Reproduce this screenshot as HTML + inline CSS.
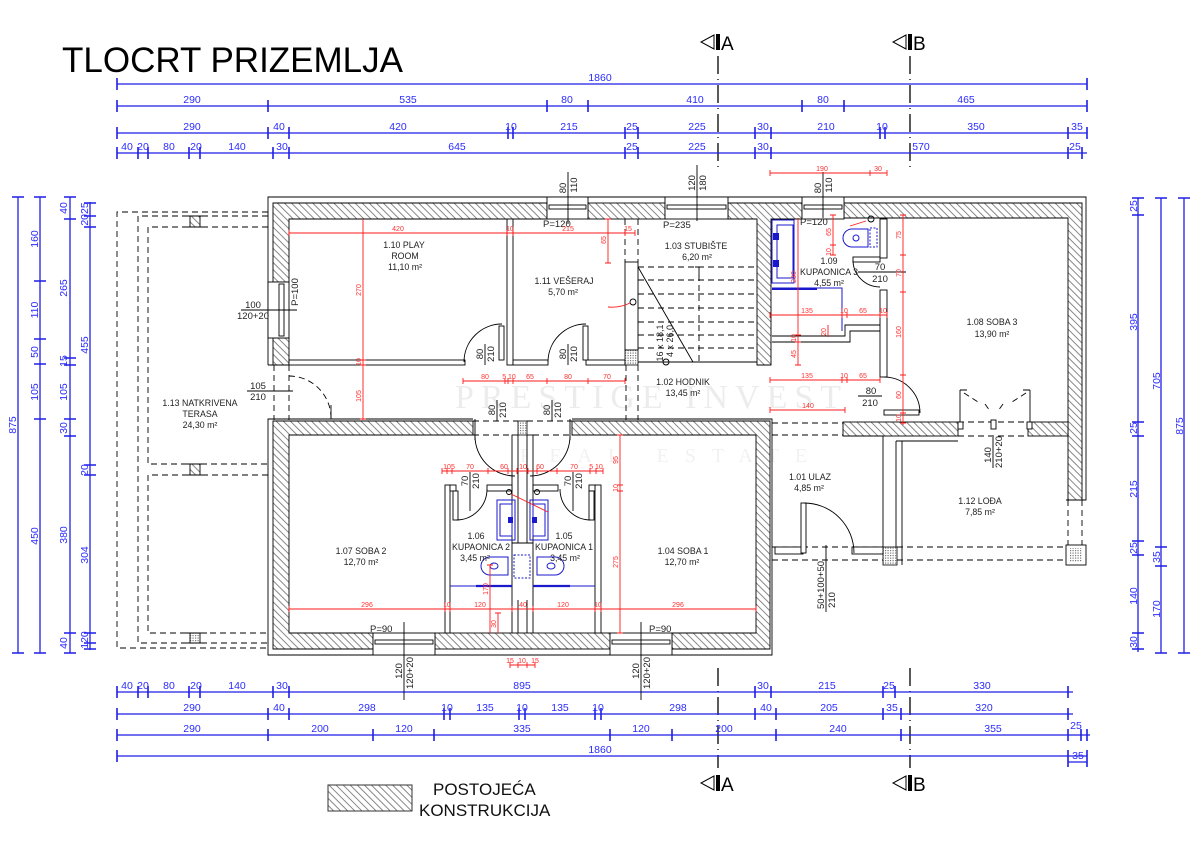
<!DOCTYPE html>
<html><head><meta charset="utf-8"><style>
html,body{margin:0;padding:0;background:#fff;}
svg{display:block;}
text{font-family:"Liberation Sans",sans-serif;}
.d{stroke:#1f1fe6;stroke-width:1.3;fill:none}
.tk{stroke:#1f1fe6;stroke-width:1.6;fill:none}
.dt{fill:#2b2bff;font-size:10.5px;text-anchor:middle}
.r{stroke:#ff1a1a;stroke-width:0.9;fill:none}
.rt{fill:#ff3030;font-size:7px;text-anchor:middle}
.k{stroke:#000;stroke-width:0.9;fill:none}
.kw{stroke:#000;stroke-width:0.9;fill:#fff}
.hw{stroke:#000;stroke-width:0.9;fill:url(#h)}
.ds{stroke:#000;stroke-width:0.9;fill:none;stroke-dasharray:6 4}
.lb{fill:#222;font-size:8.8px;text-anchor:middle}
.ft{fill:#222;font-size:9.5px;text-anchor:middle}
.bl{stroke:#1a1acc;stroke-width:1;fill:none}
.sec{stroke:#000;stroke-width:1.3;fill:none;stroke-dasharray:18 5 1 5}
</style></head><body>
<svg width="1200" height="843" viewBox="0 0 1200 843" xmlns="http://www.w3.org/2000/svg">
<defs>
<pattern id="h" width="5" height="5" patternUnits="userSpaceOnUse" patternTransform="rotate(-45)"><rect width="5" height="5" fill="#fff"/><line x1="2.5" y1="0" x2="2.5" y2="5" stroke="#555" stroke-width="0.7"/></pattern>
<pattern id="p" width="2.5" height="2.5" patternUnits="userSpaceOnUse"><rect width="2.5" height="2.5" fill="#fff"/><rect width="1.2" height="1.2" fill="#777"/></pattern>
</defs>

<!-- watermark -->
<text x="455" y="408" font-family="Liberation Serif,serif" font-size="34" letter-spacing="7" fill="#000" opacity="0.07" style="font-family:'Liberation Serif',serif">PRESTIGE INVEST</text>
<text x="520" y="462" font-size="20" letter-spacing="16" fill="#000" opacity="0.05" style="font-family:'Liberation Serif',serif">REAL ESTATE</text>

<!-- Title -->
<text x="62" y="72" font-size="35" fill="#000">TLOCRT PRIZEMLJA</text>

<!-- Section markers top -->
<polygon points="714,35 714,49 701,42" fill="none" stroke="#000" stroke-width="1"/>
<rect x="716" y="34" width="4" height="16" fill="#000"/>
<text x="721" y="50" font-size="19" fill="#000">A</text>
<polygon points="906,35 906,49 893,42" fill="none" stroke="#000" stroke-width="1"/>
<rect x="908" y="34" width="4" height="16" fill="#000"/>
<text x="913" y="50" font-size="19" fill="#000">B</text>
<path class="sec" d="M718 56 V168 M718 668 V768"/>
<path class="sec" d="M910 56 V168 M910 668 V768" stroke="#444" stroke-width="1.6"/>
<!-- Section markers bottom -->
<polygon points="714,776 714,790 701,783" fill="none" stroke="#000" stroke-width="1"/>
<rect x="716" y="775" width="4" height="16" fill="#000"/>
<text x="721" y="791" font-size="19" fill="#000">A</text>
<polygon points="906,776 906,790 893,783" fill="none" stroke="#000" stroke-width="1"/>
<rect x="908" y="775" width="4" height="16" fill="#000"/>
<text x="913" y="791" font-size="19" fill="#000">B</text>

<!-- TOP DIMENSIONS -->
<path class="d" d="M117 84 H1087 M117 106 H1087 M117 133 H1087 M117 153 H1087"/>
<path class="tk" d="M117 78V90 M1087 78V90
M117 100V112 M268 100V112 M547 100V112 M588 100V112 M802 100V112 M844 100V112 M1087 100V112
M117 127V139 M268 127V139 M289 127V139 M508 127V139 M513 127V139 M625 127V139 M638 127V139 M755 127V139 M771 127V139 M880 127V139 M885 127V139 M1068 127V139 M1087 127V139
M117 147V159 M138 147V159 M148 147V159 M189 147V159 M200 147V159 M273 147V159 M289 147V159 M625 147V159 M638 147V159 M755 147V159 M771 147V159 M1068 147V159 M1082 147V159"/>
<g class="dt">
<text x="600" y="81">1860</text>
<text x="192" y="103">290</text><text x="408" y="103">535</text><text x="567" y="103">80</text><text x="695" y="103">410</text><text x="823" y="103">80</text><text x="966" y="103">465</text>
<text x="192" y="130">290</text><text x="279" y="130">40</text><text x="398" y="130">420</text><text x="511" y="130">10</text><text x="569" y="130">215</text><text x="632" y="130">25</text><text x="697" y="130">225</text><text x="763" y="130">30</text><text x="826" y="130">210</text><text x="882" y="130">10</text><text x="976" y="130">350</text><text x="1077" y="130">35</text>
<text x="127" y="150">40</text><text x="143" y="150">20</text><text x="169" y="150">80</text><text x="196" y="150">20</text><text x="237" y="150">140</text><text x="282" y="150">30</text><text x="457" y="150">645</text><text x="632" y="150">25</text><text x="697" y="150">225</text><text x="763" y="150">30</text><text x="921" y="150">570</text><text x="1075" y="150">25</text>
</g>

<!-- BOTTOM DIMENSIONS -->
<path class="d" d="M117 692 H1073 M117 714 H1073 M117 735 H1090 M117 756 H1087 M1068 762 H1087"/>
<path class="tk" d="M117 686V698 M138 686V698 M148 686V698 M189 686V698 M200 686V698 M273 686V698 M289 686V698 M755 686V698 M771 686V698 M883 686V698 M895 686V698 M1068 686V698
M117 708V720 M268 708V720 M289 708V720 M444 708V720 M450 708V720 M519 708V720 M525 708V720 M595 708V720 M601 708V720 M755 708V720 M776 708V720 M883 708V720 M901 708V720 M1068 708V720
M117 729V741 M268 729V741 M373 729V741 M434 729V741 M610 729V741 M672 729V741 M776 729V741 M901 729V741 M1068 729V741 M1081 729V741 M1087 729V741
M117 750V762 M1068 750V767 M1087 750V767"/>
<g class="dt">
<text x="127" y="689">40</text><text x="143" y="689">20</text><text x="169" y="689">80</text><text x="196" y="689">20</text><text x="237" y="689">140</text><text x="282" y="689">30</text><text x="522" y="689">895</text><text x="763" y="689">30</text><text x="827" y="689">215</text><text x="889" y="689">25</text><text x="982" y="689">330</text>
<text x="192" y="711">290</text><text x="279" y="711">40</text><text x="367" y="711">298</text><text x="447" y="711">10</text><text x="485" y="711">135</text><text x="522" y="711">10</text><text x="560" y="711">135</text><text x="598" y="711">10</text><text x="678" y="711">298</text><text x="766" y="711">40</text><text x="829" y="711">205</text><text x="892" y="711">35</text><text x="984" y="711">320</text>
<text x="192" y="732">290</text><text x="320" y="732">200</text><text x="404" y="732">120</text><text x="522" y="732">335</text><text x="641" y="732">120</text><text x="724" y="732">200</text><text x="838" y="732">240</text><text x="993" y="732">355</text><text x="1076" y="729">25</text>
<text x="600" y="753">1860</text><text x="1078" y="759">35</text>
</g>

<!-- LEFT VERTICAL DIMENSIONS -->
<path class="d" d="M18 197 V653 M40 197 V653 M70 197 V653 M90 202 V650"/>
<path class="tk" d="M12 197H24 M12 653H24
M34 197H46 M34 281H46 M34 339H46 M34 364H46 M34 419H46 M34 653H46
M64 197H76 M64 219H76 M64 358H76 M64 365H76 M64 419H76 M64 436H76 M64 633H76 M64 653H76
M84 203H96 M84 216H96 M84 227H96 M84 465H96 M84 475H96 M84 633H96 M84 643H96 M84 649H96"/>
<g class="dt">
<text transform="translate(16,425) rotate(-90)">875</text>
<text transform="translate(38,239) rotate(-90)">160</text>
<text transform="translate(38,310) rotate(-90)">110</text>
<text transform="translate(38,352) rotate(-90)">50</text>
<text transform="translate(38,392) rotate(-90)">105</text>
<text transform="translate(38,536) rotate(-90)">450</text>
<text transform="translate(67,208) rotate(-90)">40</text>
<text transform="translate(67,288) rotate(-90)">265</text>
<text transform="translate(67,361) rotate(-90)">15</text>
<text transform="translate(67,392) rotate(-90)">105</text>
<text transform="translate(67,428) rotate(-90)">30</text>
<text transform="translate(67,535) rotate(-90)">380</text>
<text transform="translate(67,643) rotate(-90)">40</text>
<text transform="translate(88,214) rotate(-90)">2025</text>
<text transform="translate(88,345) rotate(-90)">455</text>
<text transform="translate(88,470) rotate(-90)">20</text>
<text transform="translate(88,555) rotate(-90)">304</text>
<text transform="translate(88,640) rotate(-90)">120</text>
</g>

<!-- RIGHT VERTICAL DIMENSIONS -->
<path class="d" d="M1138 198 V652 M1161 198 V653 M1184 198 V653"/>
<path class="tk" d="M1132 198H1144 M1132 215H1144 M1132 422H1144 M1132 436H1144 M1132 541H1144 M1132 555H1144 M1132 633H1144 M1132 649H1144
M1155 198H1167 M1155 547H1167 M1155 566H1167 M1155 653H1167
M1178 198H1190 M1178 653H1190"/>
<g class="dt">
<text transform="translate(1137,206) rotate(-90)">25</text>
<text transform="translate(1137,322) rotate(-90)">395</text>
<text transform="translate(1137,428) rotate(-90)">25</text>
<text transform="translate(1137,489) rotate(-90)">215</text>
<text transform="translate(1137,548) rotate(-90)">25</text>
<text transform="translate(1137,596) rotate(-90)">140</text>
<text transform="translate(1137,642) rotate(-90)">30</text>
<text transform="translate(1160,381) rotate(-90)">705</text>
<text transform="translate(1160,557) rotate(-90)">35</text>
<text transform="translate(1160,609) rotate(-90)">170</text>
<text transform="translate(1183,426) rotate(-90)">875</text>
</g>

<!-- TERRACE (dashed) -->
<path class="ds" d="M268 212 H117 V648 H268"/>
<path class="ds" d="M268 216 H138 V643 H268"/>
<path class="ds" d="M268 227 H148 V464 H268 M268 475 H148 V633 H268"/>
<g stroke="#000" stroke-width="0.9">
<rect x="190" y="216" width="10" height="11" fill="url(#h)"/>
<rect x="190" y="464" width="10" height="11" fill="url(#h)"/>
<rect x="190" y="633" width="10" height="10" fill="url(#p)"/>
<path d="M183 216H207 M183 227H207 M183 464H207 M183 475H207 M183 633H207 M183 643H207"/>
</g>
<path class="ds" d="M274 365 V420 M289 365 V420"/>
<path class="ds" d="M289 376 A42 42 0 0 1 331 418"/>
<path class="k" d="M331 405 V419"/>

<!-- EXISTING HATCHED WALLS -->
<path class="hw" d="M273 282 V203 H547 V219 H289 V282 Z"/>
<rect class="hw" x="273" y="338" width="16" height="27"/>
<rect class="hw" x="588" y="203" width="77" height="16"/>
<path class="hw" d="M728 203 H802 V219 H771 V365 H757 V219 H728 Z"/>
<path class="hw" d="M844 203 H1082 V500 H1068 V218 H844 Z"/>
<rect class="hw" x="843" y="422" width="115" height="14"/>
<rect class="hw" x="1028" y="422" width="40" height="14"/>
<path class="hw" d="M473 421 H273 V649 H373 V633 H289 V435 H473 Z"/>
<rect class="hw" x="435" y="633" width="175" height="16"/>
<path class="hw" d="M572 421 H770 V649 H672 V633 H756 V435 H572 Z"/>

<!-- outer outline -->
<path class="k" d="M268 365 V197 H1086 V500 H1066"/>
<path class="k" d="M268 365 H289"/>
<path class="k" d="M473 419 H268 V655 H772 V419 H572"/>

<!-- WINDOWS -->
<g>
<rect class="kw" x="547" y="197" width="41" height="22"/><rect class="k" x="549" y="205" width="37" height="4"/>
<rect class="kw" x="665" y="197" width="63" height="22"/><rect class="k" x="667" y="205" width="59" height="4"/>
<rect class="kw" x="802" y="197" width="42" height="22"/><rect class="k" x="804" y="205" width="38" height="4"/>
<rect class="kw" x="268" y="282" width="21" height="56"/><rect class="k" x="279" y="284" width="5" height="52"/>
<rect class="kw" x="373" y="633" width="62" height="22"/><rect class="k" x="375" y="640" width="58" height="4"/>
<rect class="kw" x="610" y="633" width="62" height="22"/><rect class="k" x="612" y="640" width="58" height="4"/>
</g>
<!-- window labels -->
<path class="k" d="M568 172 V224 M697 165 V221 M823 172 V218 M404 622 V700 M641 622 V700 M241 310 H297" stroke="#333"/>
<g class="ft">
<text transform="translate(566,188) rotate(-90)">80</text>
<text transform="translate(577,185) rotate(-90)">110</text>
<text transform="translate(695,183) rotate(-90)">120</text>
<text transform="translate(706,183) rotate(-90)">180</text>
<text transform="translate(821,188) rotate(-90)">80</text>
<text transform="translate(832,185) rotate(-90)">110</text>
<text transform="translate(402,671) rotate(-90)">120</text>
<text transform="translate(413,673) rotate(-90)">120+20</text>
<text transform="translate(639,671) rotate(-90)">120</text>
<text transform="translate(650,673) rotate(-90)">120+20</text>
<text x="253" y="308">100</text>
<text x="253" y="319">120+20</text>
<text transform="translate(298,292) rotate(-90)">P=100</text>
</g>
<g fill="#222" font-size="9.5">
<text x="543" y="227">P=120</text>
<text x="663" y="228">P=235</text>
<text x="800" y="225">P=120</text>
<text x="370" y="632">P=90</text>
<text x="649" y="632">P=90</text>
</g>

<!-- UPPER INTERIOR -->
<rect class="kw" x="289" y="360" width="176" height="5"/>
<rect class="kw" x="507" y="219" width="6" height="146"/>
<rect class="kw" x="513" y="360" width="35" height="5"/>
<rect class="kw" x="586" y="360" width="39" height="5"/>
<rect class="kw" x="499" y="326" width="5" height="34"/>
<path class="k" d="M464 362 A38 38 0 0 1 502 324"/>
<rect class="kw" x="583" y="326" width="5" height="34"/>
<path class="k" d="M548 362 A38 38 0 0 1 586 324"/>
<g class="ft">
<text transform="translate(483,354) rotate(-90)">80</text>
<text transform="translate(494,354) rotate(-90)">210</text>
<text transform="translate(566,354) rotate(-90)">80</text>
<text transform="translate(577,354) rotate(-90)">210</text>
</g>
<path class="k" d="M485 344 V365 M568 344 V365" stroke="#333"/>

<!-- stair wall / column -->
<path class="ds" d="M625 219 V262 M638 219 V262"/>
<rect class="kw" x="625" y="262" width="13" height="88"/>
<rect x="625" y="350" width="13" height="15" fill="url(#p)" stroke="#000" stroke-width="0.8"/>
<path class="ds" d="M626 365 V420 M638 365 V420"/>
<!-- stair -->
<path class="ds" d="M638 267 H757 M638 280 H757 M638 294 H757 M638 308 H757 M638 322 H757 M638 335 H757 M638 348 H757 M699 275 V362"/>
<path class="k" d="M638 362 H757 M638 267 L693 362 M699 267 V276 M695 267 H703"/>
<circle class="k" cx="666" cy="362" r="3"/>
<circle class="k" cx="633" cy="302" r="3"/>
<path class="r" d="M608 307 Q620 308 630 303"/>
<g class="ft" font-size="9">
<text transform="translate(663,343) rotate(-90)" font-size="9">16 x 18,1</text>
<text transform="translate(673,341) rotate(-90)" font-size="9">4 x 26,0</text>
</g>

<!-- KUPAONICA 3 -->
<rect class="bl" x="772" y="220" width="22" height="63"/>
<rect class="bl" x="777" y="225" width="16" height="53"/>
<rect x="773" y="233" width="6" height="7" fill="#1a1acc"/>
<rect x="773" y="260" width="6" height="7" fill="#1a1acc"/>
<path class="bl" d="M772 288 H842 V331"/>
<path d="M772 289 H817" stroke="#1a1acc" stroke-width="2"/>
<path class="bl" d="M868 229 H852 A9 9 0 0 0 852 247 H868 Z"/>
<circle class="bl" cx="856" cy="238" r="3"/>
<rect class="bl" x="870" y="228" width="7" height="19" stroke-dasharray="2 1.5"/>
<circle class="k" cx="871" cy="219" r="3"/>
<path class="r" d="M850 226 L866 221"/>
<path class="k" d="M772 336 H845 V325 H880 M772 342 H850 V331 H880"/>
<rect class="kw" x="880" y="219" width="7" height="39"/>
<rect class="kw" x="880" y="290" width="7" height="87"/>
<rect class="kw" x="853" y="257" width="27" height="5"/>
<path class="k" d="M853 260 A27 27 0 0 0 880 287"/>
<path class="k" d="M858 272 H906 M858 396 H882" stroke="#333"/>
<text class="ft" x="880" y="270">70</text>
<text class="ft" x="880" y="282">210</text>
<text class="ft" x="871" y="394">80</text>
<text class="ft" x="870" y="406">210</text>
<!-- Soba3 door -->
<rect class="kw" x="884" y="410" width="35" height="5"/>
<path class="k" d="M884 377 A36 36 0 0 1 920 413"/>
<!-- loggia door -->
<path class="ds" d="M958 422 H1028 M958 436 H1028"/>
<path class="k" d="M960 390 V428 M960 390 H967 M1030 390 V428 M1023 390 H1030"/>
<path class="ds" d="M964 393 L978 402 M1026 393 L1012 402 M985 404 L990 411 M1003 404 L998 411" stroke-dasharray="4 3"/>
<rect class="kw" x="958" y="422" width="5" height="7"/>
<rect class="kw" x="991" y="420" width="5" height="9"/>
<rect class="kw" x="1027" y="422" width="5" height="7"/>
<path class="k" d="M993 437 V468" stroke="#333"/>
<text class="ft" transform="translate(991,455) rotate(-90)">140</text>
<text class="ft" transform="translate(1002,452) rotate(-90)">210+20</text>

<!-- ULAZ / LOGGIA -->
<path class="ds" d="M772 423 H843 M772 435 H843"/>
<path class="k" d="M843 436 H883 V547 M896 441 V547 M902 441 V565 M896 441 H958"/>
<rect x="883" y="547" width="14" height="18" fill="url(#p)" stroke="#000" stroke-width="0.8"/>
<rect x="1066" y="545" width="20" height="20" fill="#fff" stroke="#000" stroke-width="0.9"/>
<rect x="1069" y="548" width="13" height="14" fill="url(#p)"/>
<path class="ds" d="M1068 500 V545 M1082 500 V545"/>
<path class="ds" d="M772 547 H883 M772 560 H883 M897 547 H1066 M897 560 H1066"/>
<rect class="kw" x="775" y="547" width="28" height="7"/>
<rect class="kw" x="852" y="547" width="31" height="7"/>
<rect class="kw" x="801" y="503" width="5" height="50"/>
<path class="k" d="M804 503 A50 50 0 0 1 854 553"/>
<path class="k" d="M826 545 V612" stroke="#333"/>
<text class="ft" transform="translate(824,585) rotate(-90)">50+100+50</text>
<text class="ft" transform="translate(835,600) rotate(-90)">210</text>

<!-- LOWER INTERIOR -->
<rect class="kw" x="512" y="435" width="6" height="108"/>
<rect class="kw" x="527" y="435" width="6" height="108"/>
<path class="k" d="M512 543 V633 M533 543 V633 M518 600 V633 M527 600 V633 M512 543 H533"/>
<rect x="518" y="421" width="9" height="14" fill="url(#p)" stroke="#000" stroke-width="0.8"/>
<path class="k" d="M475 436 A40 40 0 0 0 515 476 M570 436 A40 40 0 0 1 530 476"/>
<path class="ds" d="M473 421 H518 M473 435 H512 M527 421 H572 M533 435 H572"/>
<path class="k" d="M475 419 V440 M570 419 V440"/>
<path class="k" d="M497 400 V421 M552 400 V421" stroke="#333"/>
<g class="ft">
<text transform="translate(495,410) rotate(-90)">80</text>
<text transform="translate(506,410) rotate(-90)">210</text>
<text transform="translate(550,410) rotate(-90)">80</text>
<text transform="translate(561,410) rotate(-90)">210</text>
</g>
<!-- bathrooms -->
<rect class="kw" x="445" y="485" width="5" height="148"/>
<rect class="kw" x="595" y="485" width="6" height="148"/>
<rect class="kw" x="450" y="485" width="6" height="6"/>
<rect class="kw" x="487" y="485" width="25" height="6"/>
<rect class="kw" x="533" y="485" width="25" height="6"/>
<rect class="kw" x="589" y="485" width="6" height="6"/>
<rect class="kw" x="453" y="491" width="5" height="29"/>
<path class="k" d="M456 520 A31 31 0 0 0 487 489"/>
<rect class="kw" x="589" y="491" width="5" height="29"/>
<path class="k" d="M591 520 A31 31 0 0 1 560 489"/>
<path class="k" d="M470 472 V511 M573 472 V511" stroke="#333"/>
<g class="ft">
<text transform="translate(468,481) rotate(-90)">70</text>
<text transform="translate(479,481) rotate(-90)">210</text>
<text transform="translate(571,481) rotate(-90)">70</text>
<text transform="translate(582,481) rotate(-90)">210</text>
</g>
<rect class="bl" x="497" y="500" width="18" height="40"/>
<rect class="bl" x="500" y="504" width="12" height="32"/>
<rect class="bl" x="530" y="500" width="18" height="40"/>
<rect class="bl" x="533" y="504" width="12" height="32"/>
<rect x="508" y="517" width="5" height="6" fill="#1a1acc"/>
<rect x="532" y="517" width="5" height="6" fill="#1a1acc"/>
<circle class="k" cx="509" cy="492" r="2.5"/>
<circle class="k" cx="537" cy="492" r="2.5"/>
<path class="r" d="M511 494 L548 512"/>
<path class="bl" d="M508 557 H490 A9 9 0 0 0 490 575 H508 Z"/>
<ellipse class="bl" cx="494" cy="566" rx="4" ry="3"/>
<path class="bl" d="M537 557 H555 A9 9 0 0 1 555 575 H537 Z"/>
<ellipse class="bl" cx="551" cy="566" rx="4" ry="3"/>
<rect class="bl" x="514" y="555" width="16" height="23" stroke-dasharray="2 1.5"/>
<path class="bl" d="M450 586 H512 M533 586 H595"/>
<path d="M476 586 H512 M533 586 H570" stroke="#1a1acc" stroke-width="2.2"/>

<!-- RED DIMENSIONS -->
<path class="r" d="M289 233 H635 M289 230V236 M507 230V236 M513 230V236 M625 230V236 M635 230V236"/>
<path class="r" d="M363 219 V420 M360 233H366 M360 360H366 M360 365H366 M360 419H366"/>
<path class="r" d="M608 219 V263 M605 219H611 M605 263H611"/>
<path class="r" d="M463 381 H625 M463 378V384 M505 378V384 M508 378V384 M513 378V384 M547 378V384 M588 378V384 M625 378V384"/>
<path class="r" d="M770 173 H887 M770 170V176 M870 170V176 M887 170V176"/>
<path class="r" d="M833 215 V255 M830 215H836 M830 245H836 M830 255H836"/>
<path class="r" d="M798 218 V365 M795 335H801 M795 342H801 M795 365H801"/>
<path class="r" d="M770 315 H887 M770 312V318 M842 312V318 M847 312V318 M880 312V318 M887 312V318"/>
<path class="r" d="M770 380 H880 M770 377V383 M842 377V383 M847 377V383 M880 377V383"/>
<path class="r" d="M770 410 H845 M770 407V413 M845 407V413"/>
<path class="r" d="M903 215 V425 M900 215H906 M900 255H906 M900 292H906 M900 375H906 M900 413H906 M900 423H906"/>
<path class="r" d="M828 325 V337"/>
<path class="r" d="M442 471 H603 M442 468V474 M447 468V474 M452 468V474 M488 468V474 M508 468V474 M517 468V474 M528 468V474 M537 468V474 M557 468V474 M590 468V474 M596 468V474 M603 468V474"/>
<path class="r" d="M289 609 H756 M289 606V612 M445 606V612 M450 606V612 M512 606V612 M533 606V612 M595 606V612 M601 606V612 M756 606V612"/>
<path class="r" d="M620 435 V633 M617 435H623 M617 485H623 M617 491H623 M617 633H623"/>
<path class="r" d="M490 565 V633 M487 565H493 M498 613 V633 M495 613H501"/>
<path class="r" d="M510 665 H535 M510 662V668 M518 662V668 M527 662V668 M535 662V668"/>
<g class="rt">
<text x="398" y="231">420</text><text x="510" y="231">10</text><text x="568" y="231">215</text><text x="628" y="231">15</text>
<text transform="translate(361,290) rotate(-90)">270</text>
<text transform="translate(361,362) rotate(-90)">10</text>
<text transform="translate(361,396) rotate(-90)">105</text>
<text transform="translate(606,240) rotate(-90)">65</text>
<text x="485" y="379">80</text><text x="509" y="379">5 10</text><text x="530" y="379">65</text><text x="568" y="379">80</text><text x="607" y="379">70</text>
<text x="822" y="171">190</text><text x="878" y="171">30</text>
<text transform="translate(831,232) rotate(-90)">65</text>
<text transform="translate(831,252) rotate(-90)">10</text>
<text transform="translate(796,277) rotate(-90)">230</text>
<text transform="translate(796,338) rotate(-90)">10</text>
<text transform="translate(796,354) rotate(-90)">45</text>
<text x="807" y="313">135</text><text x="844" y="313">10</text><text x="863" y="313">65</text><text x="883" y="313">10</text>
<text x="807" y="378">135</text><text x="844" y="378">10</text><text x="863" y="378">65</text>
<text x="808" y="408">140</text>
<text transform="translate(901,235) rotate(-90)">75</text>
<text transform="translate(901,273) rotate(-90)">70</text>
<text transform="translate(901,332) rotate(-90)">160</text>
<text transform="translate(901,395) rotate(-90)">60</text>
<text transform="translate(901,418) rotate(-90)">10</text>
<text transform="translate(826,332) rotate(-90)">20</text>
<text x="449" y="469">105</text><text x="470" y="469">70</text><text x="504" y="469">60</text><text x="523" y="469">10</text><text x="540" y="469">60</text><text x="574" y="469">70</text><text x="596" y="469">5 10</text>
<text x="367" y="607">296</text><text x="447" y="607">10</text><text x="480" y="607">120</text><text x="523" y="607">40</text><text x="563" y="607">120</text><text x="598" y="607">10</text><text x="678" y="607">296</text>
<text transform="translate(618,460) rotate(-90)">95</text>
<text transform="translate(618,488) rotate(-90)">10</text>
<text transform="translate(618,562) rotate(-90)">275</text>
<text transform="translate(488,589) rotate(-90)">170</text>
<text transform="translate(496,624) rotate(-90)">30</text>
<text x="510" y="663">15</text><text x="522" y="663">10</text><text x="535" y="663">15</text>
</g>

<!-- terrace door label -->
<path class="k" d="M247 391 H293" stroke="#333"/>
<text class="ft" x="258" y="389">105</text>
<text class="ft" x="258" y="400">210</text>

<!-- ROOM LABELS -->
<g class="lb">
<text x="404" y="248">1.10 PLAY</text><text x="405" y="259">ROOM</text><text x="405" y="270">11,10 m²</text>
<text x="564" y="284">1.11 VEŠERAJ</text><text x="563" y="295">5,70 m²</text>
<text x="696" y="249">1.03 STUBIŠTE</text><text x="697" y="260">6,20 m²</text>
<text x="829" y="264">1.09</text><text x="829" y="275">KUPAONICA 3</text><text x="829" y="286">4,55 m²</text>
<text x="992" y="325">1.08 SOBA 3</text><text x="992" y="337">13,90 m²</text>
<text x="683" y="385">1.02 HODNIK</text><text x="683" y="396">13,45 m²</text>
<text x="200" y="406">1.13 NATKRIVENA</text><text x="200" y="417">TERASA</text><text x="200" y="428">24,30 m²</text>
<text x="361" y="554">1.07 SOBA 2</text><text x="361" y="565">12,70 m²</text>
<text x="476" y="539">1.06</text><text x="481" y="550">KUPAONICA 2</text><text x="475" y="561">3,45 m²</text>
<text x="564" y="539">1.05</text><text x="564" y="550">KUPAONICA 1</text><text x="565" y="561">3,45 m²</text>
<text x="683" y="554">1.04 SOBA 1</text><text x="682" y="565">12,70 m²</text>
<text x="810" y="480">1.01 ULAZ</text><text x="809" y="491">4,85 m²</text>
<text x="980" y="504">1.12 LOĐA</text><text x="980" y="515">7,85 m²</text>
</g>

<!-- LEGEND -->
<rect x="328" y="785" width="84" height="26" fill="url(#h)" stroke="#333" stroke-width="1"/>
<text x="433" y="795" font-size="17" fill="#111">POSTOJEĆA</text>
<text x="419" y="816" font-size="17" fill="#111">KONSTRUKCIJA</text>
</svg>
</body></html>
